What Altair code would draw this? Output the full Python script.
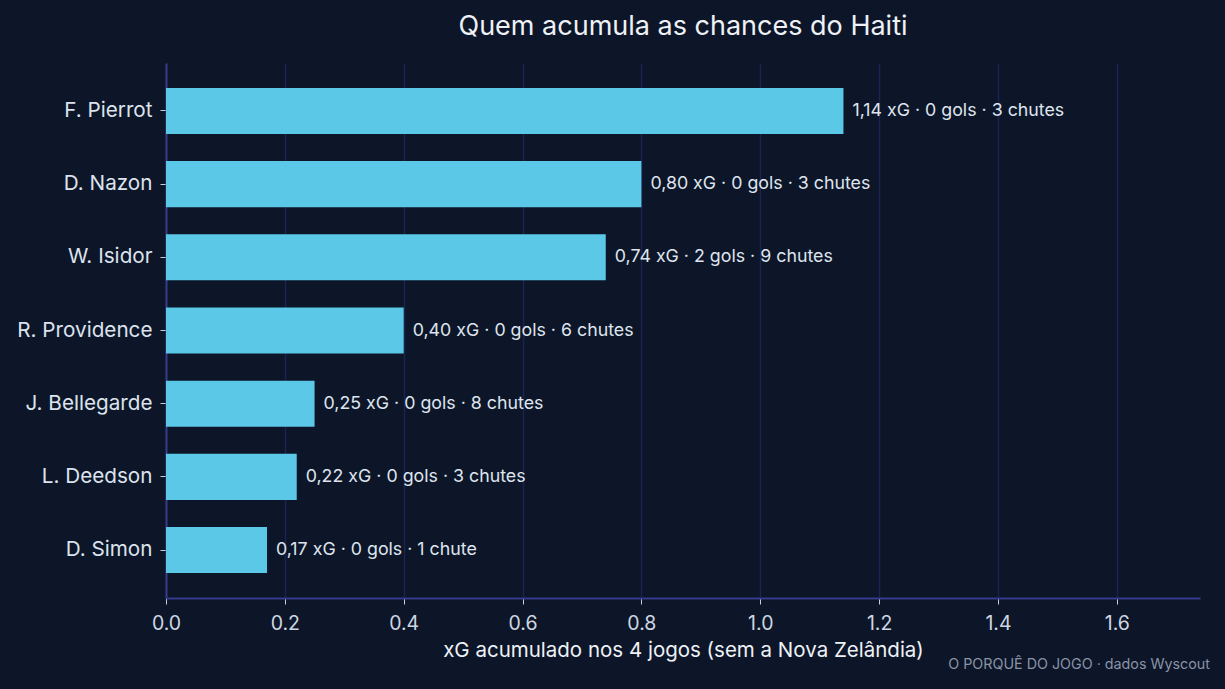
import altair as alt
import pandas as pd
import jinja2

players = ["F. Pierrot", "D. Nazon", "W. Isidor", "R. Providence", "J. Bellegarde", "L. Deedson", "D. Simon"]
xg = [1.14, 0.80, 0.74, 0.40, 0.25, 0.22, 0.17]
xg_text = ["1,14", "0,80", "0,74", "0,40", "0,25", "0,22", "0,17"]
gols = [0, 0, 2, 0, 0, 0, 0]
chutes = [3, 3, 9, 6, 8, 3, 1]
x_ticks = [0, 0.2, 0.4, 0.6, 0.8, 1.0, 1.2, 1.4, 1.6]

labels = [
    f"{t} xG · {g} gols · {c} {'chute' if c == 1 else 'chutes'}"
    for t, g, c in zip(xg_text, gols, chutes)
]
df = pd.DataFrame({"player": players, "xg": xg, "label": labels})

BG = "#0c1628"
BAR = "#5ac8e6"
FONT = "Inter"

W, H = 1034, 535

y_enc = alt.Y("player:N", sort=players, title=None,
              scale=alt.Scale(paddingInner=0.37, paddingOuter=0.34),
              axis=alt.Axis(labelFontSize=20.7, labelColor="#dde3ee", labelFont=FONT,
                            tickColor="#c8cfdc", tickSize=6, labelPadding=8,
                            domainColor="#353b8c", domainWidth=2, grid=False))
x_enc = alt.X("xg:Q", title="xG acumulado nos 4 jogos (sem a Nova Zelândia)",
              scale=alt.Scale(domain=[0, 1.74], nice=False),
              axis=alt.Axis(values=x_ticks,
                            format=".1f", labelFontSize=19.5, labelColor="#cfd6e2",
                            labelFont=FONT, titleFont=FONT, titleFontSize=20.5,
                            titleFontWeight="normal", titleColor="#eef1f6",
                            titlePadding=8, tickColor="#c8cfdc", tickSize=6,
                            labelPadding=10, domainColor="#353b8c", domainWidth=2,
                            grid=True, gridColor="#1b2350", gridWidth=1.5,
                            labelFlush=False))

bars = alt.Chart(df).mark_bar(color=BAR).encode(x=x_enc, y=y_enc)
text = alt.Chart(df).mark_text(align="left", baseline="middle", dx=9, fontSize=17.8,
                               font=FONT, color="#dfe4ee").encode(
    x="xg:Q", y=alt.Y("player:N", sort=players), text="label:N")

footer = alt.Chart(pd.DataFrame({"t": ["O PORQUÊ DO JOGO · dados Wyscout"]})).mark_text(
    align="right", baseline="middle", fontSize=14.3, font=FONT, color="#8a93a6"
).encode(x=alt.value(W + 10), y=alt.value(H + 67), text="t:N")

chart = alt.layer(bars, text, footer).properties(
    width=W, height=H, background=BG,
    title=alt.TitleParams("Quem acumula as chances do Haiti", fontSize=27, font=FONT,
                          fontWeight="normal", color="#eef1f6", offset=22,
                          anchor="middle"),
    padding={"left": 8, "top": 5, "right": 5, "bottom": 5},
).configure_view(stroke=None)

TEMPLATE = jinja2.Template("""<!DOCTYPE html>
<html>
<head>
  <style>
    html, body { background-color: #0c1628; }
    #{{ output_div }}.vega-embed { width: 100%; display: flex; }
    #{{ output_div }}.vega-embed details,
    #{{ output_div }}.vega-embed details summary { position: relative; }
  </style>
  <script type="text/javascript" src="{{ base_url }}/vega@{{ vega_version }}"></script>
  <script type="text/javascript" src="{{ base_url }}/vega-lite@{{ vegalite_version }}"></script>
  <script type="text/javascript" src="{{ base_url }}/vega-embed@{{ vegaembed_version }}"></script>
</head>
<body>
  <div id="{{ output_div }}"></div>
  <script>
    (function(vegaEmbed) {
      var spec = {{ spec }};
      var embedOpt = {{ embed_options }};
      function showError(el, error){
          el.innerHTML = ('<div style="color:red;"><p>JavaScript Error: ' + error.message + '</p></div>');
          throw error;
      }
      const el = document.getElementById('{{ output_div }}');
      vegaEmbed("#{{ output_div }}", spec, embedOpt)
        .catch(error => showError(el, error));
    })(vegaEmbed);
  </script>
</body>
</html>
""")

try:
    chart.save("out.html", embed_options={"renderer": "svg", "actions": False}, template=TEMPLATE)
except Exception:
    chart.save("out.html", embed_options={"renderer": "svg", "actions": False})
